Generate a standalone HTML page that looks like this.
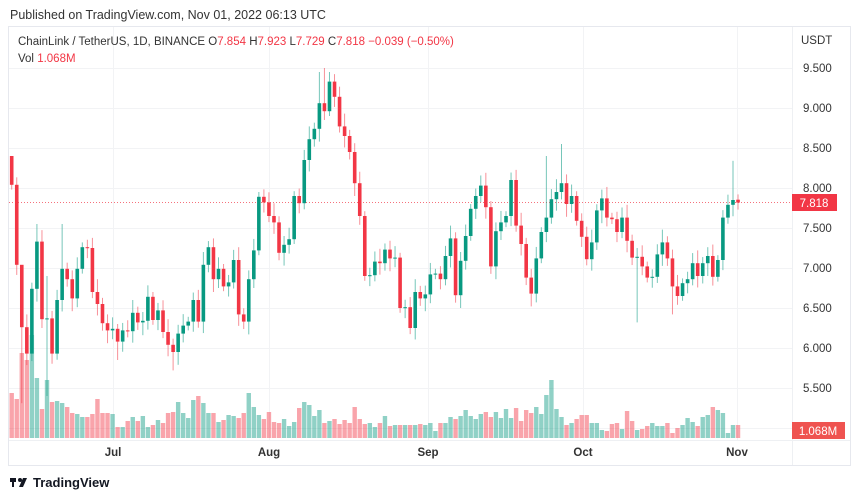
<!DOCTYPE html>
<html><head><meta charset="utf-8"><style>
body{margin:0;background:#fff;width:860px;height:499px;overflow:hidden;font-family:"Liberation Sans",sans-serif}
svg{position:absolute;left:0;top:0}
</style></head><body>
<svg id="s" width="860" height="499" xmlns="http://www.w3.org/2000/svg">
<text x="10" y="19" font-size="12.5" fill="#333">Published on TradingView.com, Nov 01, 2022 06:13 UTC</text>
<rect x="8.5" y="26.5" width="842" height="439" fill="none" stroke="#e6e8ee"/>
<g id="g"></g>
<line x1="792.5" y1="27" x2="792.5" y2="465" stroke="#eef0f3"/>
<line x1="9" y1="440.5" x2="850" y2="440.5" stroke="#eef0f3"/>
<text x="18" y="45" font-size="11.5" fill="#333">ChainLink / TetherUS, 1D, BINANCE <tspan fill="#333">O</tspan><tspan fill="#f23645">7.854</tspan> <tspan fill="#333">H</tspan><tspan fill="#f23645">7.923</tspan> <tspan fill="#333">L</tspan><tspan fill="#f23645">7.729</tspan> <tspan fill="#333">C</tspan><tspan fill="#f23645">7.818</tspan> <tspan fill="#f23645">−0.039 (−0.50%)</tspan></text>
<text x="18" y="62" font-size="11.5" fill="#333">Vol <tspan fill="#f23645">1.068M</tspan></text>
<text x="801" y="44" font-size="11.5" fill="#333">USDT</text>
<g font-size="11.5" fill="#333" id="pl"></g>
<rect x="792" y="194" width="45" height="17" fill="#f23645"/>
<text x="814" y="207" font-size="11.5" fill="#fff" text-anchor="middle">7.818</text>
<rect x="792" y="422" width="53" height="17" fill="#ef5350"/>
<text x="818" y="435" font-size="11.5" fill="#fff" text-anchor="middle">1.068M</text>
<g font-size="11.5" fill="#333" font-weight="bold" text-anchor="middle">
<text x="113" y="456">Jul</text><text x="269" y="456">Aug</text><text x="428" y="456">Sep</text><text x="583" y="456">Oct</text><text x="737" y="456">Nov</text></g>
<g transform="translate(10,475)"><rect x="0" y="3" width="6" height="4" fill="#131722"/><rect x="2" y="3" width="2" height="9" fill="#131722"/><circle cx="10" cy="5" r="2" fill="#131722"/><path d="M13 3h4l-4 9h-4z" fill="#131722"/></g>
<text x="33" y="487" font-size="13" font-weight="bold" fill="#131722">TradingView</text>
</svg>
<script>
var C=[8.04,7.04,6.26,5.93,6.74,7.33,6.36,6.37,5.93,6.6,6.99,6.86,6.62,6.99,7.26,7.25,6.7,6.55,6.31,6.22,6.24,6.08,6.22,6.21,6.44,6.32,6.34,6.64,6.35,6.47,6.2,6.04,5.95,6.18,6.28,6.33,6.6,6.33,7.04,7.26,6.86,6.99,6.77,6.82,7.1,6.42,6.33,6.86,7.22,7.89,7.82,7.65,7.57,7.19,7.29,7.36,7.9,7.81,8.35,8.61,8.74,9.06,8.96,9.33,9.14,8.77,8.65,8.45,8.06,7.65,6.9,6.91,7.08,7.06,7.23,7.12,7.13,6.5,6.51,6.25,6.7,6.62,6.67,6.92,6.93,6.86,7.15,7.37,6.66,7.09,7.4,7.74,7.9,8.03,7.76,7.02,7.46,7.57,7.65,8.1,7.53,7.3,6.88,6.68,7.12,7.45,7.63,7.86,7.95,8.06,7.8,7.9,7.59,7.39,7.11,7.32,7.72,7.87,7.63,7.61,7.45,7.63,7.34,7.13,7.14,7.02,6.88,6.89,7.17,7.32,7.12,6.77,6.65,6.81,6.86,7.06,6.9,7.06,7.15,6.89,7.1,7.63,7.79,7.85,7.818];
var V=[393,399,353,360,335,378,409,380,402,401,403,407,413,414,417,417,414,399,413,413,414,427,427,421,417,421,416,427,425,420,423,413,412,402,413,418,400,396,403,413,413,422,420,415,416,418,413,393,407,415,419,412,422,423,419,426,422,408,402,405,416,410,423,421,419,424,420,423,407,419,424,423,427,423,416,426,425,425,425,425,425,424,425,423,431,423,423,417,419,416,410,416,419,414,412,417,412,418,409,418,408,421,410,413,407,414,395,380,409,417,425,423,419,415,415,423,423,430,431,424,423,429,411,421,430,429,426,423,426,426,423,433,428,425,418,422,426,417,415,407,410,413,433];
var HI={0:8.4,2:6.9,5:7.55,7:6.9,10:7.55,61:9.45,62:9.5,63:9.45,106:8.4,109:8.55,143:8.34,144:7.92};
var LO={2:5.31,7:5.4,21:5.85,32:5.72,124:6.32,131:6.42,144:7.73};
function Y(p){return 68+(9.5-p)*80}
var s='';
// grid
for(var p=5;p<=9.5;p+=0.5){var y=Y(p);s+='<line x1="9" x2="792" y1="'+(Math.round(y)+.5)+'" y2="'+(Math.round(y)+.5)+'" stroke="#f2f3f5"/>';}
[113,269,428,583,737].forEach(function(x){s+='<line x1="'+(x+.5)+'" x2="'+(x+.5)+'" y1="27" y2="440" stroke="#f2f3f5"/>'});
s+='<line x1="9" x2="792" y1="202.5" y2="202.5" stroke="#f23645" stroke-dasharray="1,2" opacity=".7"/>';
var prev=8.4;
for(var i=0;i<C.length;i++){
 var x=11.7+i*5.044, o=prev, c=C[i]; if(i==C.length-1)o=7.854;
 var up=c>=o, col=up?'#089981':'#f23645';
 var h=HI[i]!==undefined?HI[i]:Math.max(o,c)+0.06+((i*37)%7)/60;
 var l=LO[i]!==undefined?LO[i]:Math.min(o,c)-0.06-((i*53)%7)/60;
 var v=V[i]!==undefined?V[i]:425;
 s+='<rect x="'+(x-2.2)+'" y="'+v+'" width="4.4" height="'+(438-v)+'" fill="'+(up?'#089981':'#f23645')+'" opacity=".45"/>';
 s+='<line x1="'+x+'" x2="'+x+'" y1="'+Y(h)+'" y2="'+Y(l)+'" stroke="'+col+'" opacity=".55"/>';
 var t=Y(Math.max(o,c)),b=Y(Math.min(o,c));
 s+='<rect x="'+(x-1.8)+'" y="'+t+'" width="3.6" height="'+Math.max(1,b-t)+'" fill="'+col+'"/>';
 prev=c;
}
document.getElementById('g').innerHTML=s;
var q='';['9.500','9.000','8.500','8.000','7.500','7.000','6.500','6.000','5.500'].forEach(function(t){q+='<text x="803" y="'+(Y(+t)+4)+'">'+t+'</text>'});
document.getElementById('pl').innerHTML=q;
</script>
</body></html>
